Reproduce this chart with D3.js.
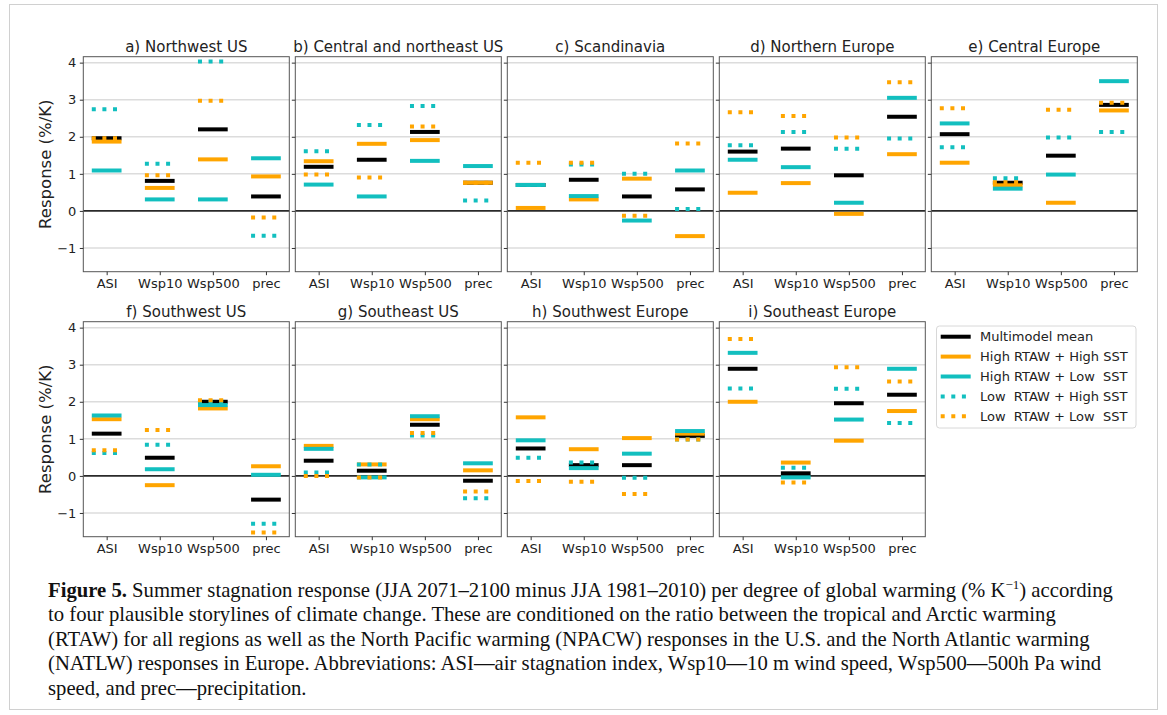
<!DOCTYPE html>
<html>
<head>
<meta charset="utf-8">
<script src="https://cdn.jsdelivr.net/npm/d3@7"></script>
<style>
  body { margin: 0; background: #fff; }
  svg { display: block; }
  .sans { font-family: "DejaVu Sans", sans-serif; }
  .serif { font-family: "Liberation Serif", "Times New Roman", serif; }
</style>
</head>
<body>
<svg id="fig" width="1167" height="715"></svg>
<script>
// ---- data -------------------------------------------------------------
const panelTitles = [
  "a) Northwest US", "b) Central and northeast US", "c) Scandinavia",
  "d) Northern Europe", "e) Central Europe",
  "f) Southwest US", "g) Southeast US", "h) Southwest Europe", "i) Southeast Europe"
];
const variables = ["ASI", "Wsp10", "Wsp500", "prec"];
const yTicks = [-1, 0, 1, 2, 3, 4];
const yTickLabels = ["\u22121", "0", "1", "2", "3", "4"];

// one row per region, columns follow `variables`  (% per K)
const multimodelMean = [
  [1.96, 0.81, 2.20, 0.39],
  [1.19, 1.38, 2.13, 0.76],
  [0.70, 0.84, 0.39, 0.58],
  [1.60, 1.68, 0.96, 2.54],
  [2.07, 0.76, 1.49, 2.86],
  [1.14, 0.49, 2.00, -0.64],
  [0.41, 0.14, 1.38, -0.13],
  [0.74, 0.29, 0.29, 1.08],
  [2.89, 0.07, 1.96, 2.19]
];
const highRtawHighSst = [
  [1.87, 0.62, 1.39, 0.93],
  [1.34, 1.81, 1.91, 0.76],
  [0.08, 0.31, 0.87, -0.68],
  [0.49, 0.75, -0.08, 1.53],
  [1.30, 0.69, 0.22, 2.71],
  [1.53, -0.25, 1.82, 0.26],
  [0.81, 0.31, 1.53, 0.15],
  [1.58, 0.72, 1.02, 1.14],
  [2.00, 0.36, 0.95, 1.75]
];
const highRtawLowSst = [
  [1.09, 0.31, 0.31, 1.42],
  [0.71, 0.39, 1.35, 1.21],
  [0.70, 0.40, -0.26, 1.09],
  [1.38, 1.18, 0.22, 3.05],
  [2.36, 0.60, 0.98, 3.50],
  [1.63, 0.18, 1.91, 0.03],
  [0.73, -0.04, 1.61, 0.34],
  [0.96, 0.21, 0.60, 1.21],
  [3.32, -0.04, 1.52, 2.89]
];
const lowRtawHighSst = [
  [2.74, 1.27, 4.03, -0.67],
  [1.61, 2.32, 2.83, 0.28],
  [0.70, 1.25, 1.00, 0.05],
  [1.77, 2.13, 1.68, 1.95],
  [1.72, 0.88, 1.98, 2.13],
  [0.62, 0.84, 2.00, -1.29],
  [0.09, 0.31, 1.09, -0.60],
  [0.49, 0.36, -0.05, 0.98],
  [2.36, 0.22, 2.35, 1.43]
];
const lowRtawLowSst = [
  [1.96, 0.96, 2.97, -0.18],
  [0.98, 0.90, 2.28, 0.76],
  [1.30, 1.30, -0.13, 1.82],
  [2.66, 2.56, 1.98, 3.47],
  [2.77, 0.77, 2.73, 2.92],
  [0.69, 1.24, 2.04, -1.53],
  [0.00, -0.04, 1.16, -0.42],
  [-0.14, -0.16, -0.49, 0.98],
  [3.69, -0.18, 2.93, 2.55]
];

const seriesNames = [
  "Multimodel mean",
  "High RTAW + High SST",
  "High RTAW + Low  SST",
  "Low  RTAW + High SST",
  "Low  RTAW + Low  SST"
];

// ---- styling ----------------------------------------------------------
const ORANGE = "#ffa500", TEAL = "#12bfbf", BLACK = "#000000";
const series = [
  { name: seriesNames[0], values: multimodelMean,  color: BLACK,  dotted: false },
  { name: seriesNames[1], values: highRtawHighSst, color: ORANGE, dotted: false },
  { name: seriesNames[2], values: highRtawLowSst,  color: TEAL,   dotted: false },
  { name: seriesNames[3], values: lowRtawHighSst,  color: TEAL,   dotted: true },
  { name: seriesNames[4], values: lowRtawLowSst,   color: ORANGE, dotted: true }
];
const LW = 4, DASH = "4 6.6";

const svg = d3.select("#fig");

// outer figure frame
svg.append("rect")
  .attr("x", 9.5).attr("y", 4.5).attr("width", 1148).attr("height", 705)
  .attr("fill", "none").attr("stroke", "#d0d0d0").attr("stroke-width", 1);

const PW = 206, PH = 215;
const x0 = 83.3, y0 = 56.7, colStep = 212, rowStep = 265;

const x = d3.scalePoint().domain(variables).range([0, PW]).padding(0.44);
const y = d3.scaleLinear().domain([-1.64, 4.16]).range([PH, 0]);
const half = x.step() * 0.28;

panelTitles.forEach((title, i) => {
  const row = Math.floor(i / 5), col = i % 5;
  const g = svg.append("g")
    .attr("transform", `translate(${x0 + col * colStep},${y0 + row * rowStep})`);

  // horizontal grid
  g.selectAll("line.grid").data(yTicks.filter(t => t !== 0)).join("line")
    .attr("class", "grid")
    .attr("x1", 0).attr("x2", PW)
    .attr("y1", d => y(d)).attr("y2", d => y(d))
    .attr("stroke", "#dcdcdc").attr("stroke-width", 1.5);

  // zero reference line
  g.append("line")
    .attr("x1", 0).attr("x2", PW).attr("y1", y(0)).attr("y2", y(0))
    .attr("stroke", "#2a2a2a").attr("stroke-width", 1.8);

  // storyline markers
  series.forEach(s => {
    g.selectAll(null).data(variables.map((v, k) => ({ v, val: s.values[i][k] }))).join("line")
      .attr("x1", d => x(d.v) - half).attr("x2", d => x(d.v) + half)
      .attr("y1", d => y(d.val)).attr("y2", d => y(d.val))
      .attr("stroke", s.color).attr("stroke-width", LW)
      .attr("stroke-dasharray", s.dotted ? DASH : null);
  });

  // frame
  g.append("rect").attr("width", PW).attr("height", PH)
    .attr("fill", "none").attr("stroke", "#555").attr("stroke-width", 1);

  // y axis
  const yAxis = d3.axisLeft(y).tickValues(yTicks).tickSize(3.5).tickPadding(3.5)
    .tickFormat((d, k) => col === 0 ? yTickLabels[k] : "");
  const ya = g.append("g").call(yAxis);
  ya.select(".domain").remove();
  ya.selectAll("line").attr("stroke", "#333");
  ya.selectAll("text").attr("class", "sans").attr("font-size", 13).attr("fill", "#222");

  // x axis
  const xAxis = d3.axisBottom(x).tickSize(3.5).tickPadding(3.5);
  const xa = g.append("g").attr("transform", `translate(0,${PH})`).call(xAxis);
  xa.select(".domain").remove();
  xa.selectAll("line").attr("stroke", "#333");
  xa.selectAll("text").attr("class", "sans").attr("font-size", 13).attr("fill", "#222");

  // title
  g.append("text").attr("class", "sans")
    .attr("x", PW / 2).attr("y", -5)
    .attr("text-anchor", "middle").attr("font-size", 15).attr("fill", "#222")
    .text(title);

  if (col === 0) {
    g.append("text").attr("class", "sans")
      .attr("transform", `translate(-32,${PH / 2}) rotate(-90)`)
      .attr("text-anchor", "middle").attr("font-size", 16.5).attr("fill", "#222")
      .text("Response (%/K)");
  }
});

// legend
const lg = svg.append("g").attr("transform", "translate(936.5,326)");
lg.append("rect").attr("width", 199.5).attr("height", 102).attr("rx", 3)
  .attr("fill", "#fff").attr("stroke", "#d8d8d8");
series.forEach((s, k) => {
  const yy = 10.7 + k * 19.9;
  lg.append("line").attr("x1", 4.2).attr("x2", 34.2).attr("y1", yy).attr("y2", yy)
    .attr("stroke", s.color).attr("stroke-width", LW)
    .attr("stroke-dasharray", s.dotted ? DASH : null);
  lg.append("text").attr("class", "sans").attr("x", 43.5).attr("y", yy + 4.7)
    .attr("font-size", 13).attr("fill", "#222").attr("xml:space", "preserve")
    .style("white-space", "pre").text(s.name);
});

// caption
const cap = svg.append("g").attr("class", "serif").attr("fill", "#111").attr("font-size", 20.7);
const lines = [
  null,
  "to four plausible storylines of climate change. These are conditioned on the ratio between the tropical and Arctic warming",
  "(RTAW) for all regions as well as the North Pacific warming (NPACW) responses in the U.S. and the North Atlantic warming",
  "(NATLW) responses in Europe. Abbreviations: ASI\u2014air stagnation index, Wsp10\u201410 m wind speed, Wsp500\u2014500h Pa wind",
  "speed, and prec\u2014precipitation."
];
const baseY = 597, lead = 24.4, capX = 48;
const l1 = cap.append("text").attr("x", capX).attr("y", baseY);
l1.append("tspan").attr("font-weight", "bold").text("Figure 5.");
l1.append("tspan").text(" Summer stagnation response (JJA 2071\u20132100 minus JJA 1981\u20132010) per degree of global warming (% K");
l1.append("tspan").attr("font-size", 13).attr("dy", -8).text("\u22121");
l1.append("tspan").attr("dy", 8).text(") according");
lines.forEach((t, k) => {
  if (t) cap.append("text").attr("x", capX).attr("y", baseY + k * lead).text(t);
});
</script>
</body>
</html>
